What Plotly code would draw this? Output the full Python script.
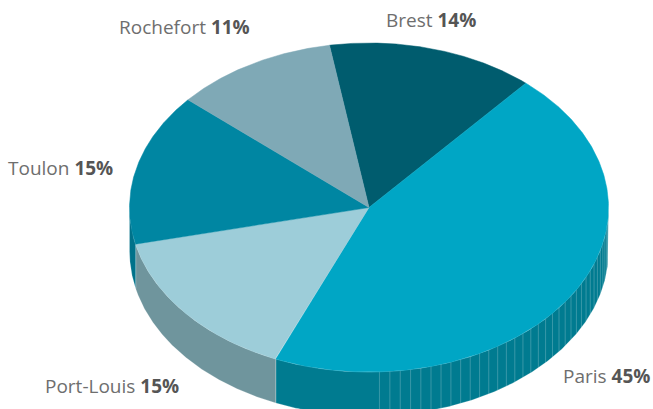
import numpy as np
import plotly.graph_objects as go

# ---- data ----
ports = ["Brest", "Paris", "Port-Louis", "Toulon", "Rochefort"]
shares = [14, 45, 15, 15, 11]

# ---- style ----
top_colors = ["#005c6e", "#00a6c5", "#9dcdd9", "#0086a2", "#7fa9b6"]
side_colors = ["#00475a", "#007b90", "#6f959d", "#00728a", "#5f8a96"]
W, H = 653, 409
CX, CY, RX, RY, DEPTH = 369, 207.5, 239.5, 164.5, 44
START_DEG = 99.5  # angle of first slice edge (ccw from right, y up)
STRIPE_STEP = 2.5  # facet step of the shaded wall (degrees)
label_pos = {
    "Brest": (431, 20),
    "Paris": (606, 376),
    "Port-Louis": (112, 386),
    "Toulon": (60, 168),
    "Rochefort": (184, 27),
}
name_color = "#6e6e6e"
pct_color = "#555555"
FONT = "Open Sans"


def ell(t_deg, dy=0.0):
    t = np.radians(t_deg)
    return CX + RX * np.cos(t), CY - RY * np.sin(t) + dy


fig = go.Figure()

# slice angle ranges (clockwise)
total = float(sum(shares))
edges = [START_DEG]
for v in shares:
    edges.append(edges[-1] - 360.0 * v / total)

# side walls (visible lower half)
for i, name in enumerate(ports):
    a_hi, a_lo = edges[i], edges[i + 1]
    for lo_b, hi_b in [(-180, 0), (-540, -360), (180, 360)]:
        lo, hi = max(a_lo, lo_b), min(a_hi, hi_b)
        if hi - lo <= 0.01:
            continue
        ts = np.linspace(lo, hi, 200)
        xt, yt = ell(ts)
        xb, yb = ell(ts[::-1], DEPTH)
        fig.add_trace(go.Scatter(
            x=np.concatenate([xt, xb, xt[:1]]),
            y=np.concatenate([yt, yb, yt[:1]]),
            mode="lines", fill="toself", fillcolor=side_colors[i],
            line=dict(color="rgba(255,255,255,0.35)", width=0.6),
            hoverinfo="skip", showlegend=False,
        ))

# facet lines on the right half of the wall (front-right quadrant)
sx, sy = [], []
for t in np.arange(-90 + STRIPE_STEP, 0, STRIPE_STEP):
    x0, y0 = ell(t)
    x1, y1 = ell(t, DEPTH)
    sx += [x0, x1, None]
    sy += [y0, y1, None]
fig.add_trace(go.Scatter(
    x=sx, y=sy, mode="lines",
    line=dict(color="rgba(255,255,255,0.28)", width=0.8),
    hoverinfo="skip", showlegend=False,
))

# top faces
for i, name in enumerate(ports):
    ts = np.linspace(edges[i], edges[i + 1], 300)
    xa, ya = ell(ts)
    fig.add_trace(go.Scatter(
        x=np.concatenate([[CX], xa, [CX]]),
        y=np.concatenate([[CY], ya, [CY]]),
        mode="lines", fill="toself", fillcolor=top_colors[i],
        line=dict(color=top_colors[i], width=0.5),
        name=name, hoverinfo="name", showlegend=False,
    ))

# labels
for name, v in zip(ports, shares):
    lx, ly = label_pos[name]
    fig.add_annotation(
        x=lx, y=ly, xref="x", yref="y", showarrow=False,
        text=f"<span style='color:{name_color}'>{name}</span> "
             f"<b style='color:{pct_color}'>{v}%</b>",
        font=dict(family=FONT, size=19, color=name_color),
        xanchor="center", yanchor="middle",
    )

fig.update_layout(
    width=W, height=H,
    margin=dict(l=0, r=0, t=0, b=0),
    paper_bgcolor="white", plot_bgcolor="white",
    xaxis=dict(range=[0, W], visible=False, fixedrange=True),
    yaxis=dict(range=[H, 0], visible=False, fixedrange=True),
)

fig.write_html(
    "out.html",
    config={"displayModeBar": False},
    post_script="document.body.style.margin='0';document.body.style.overflow='hidden';",
)
